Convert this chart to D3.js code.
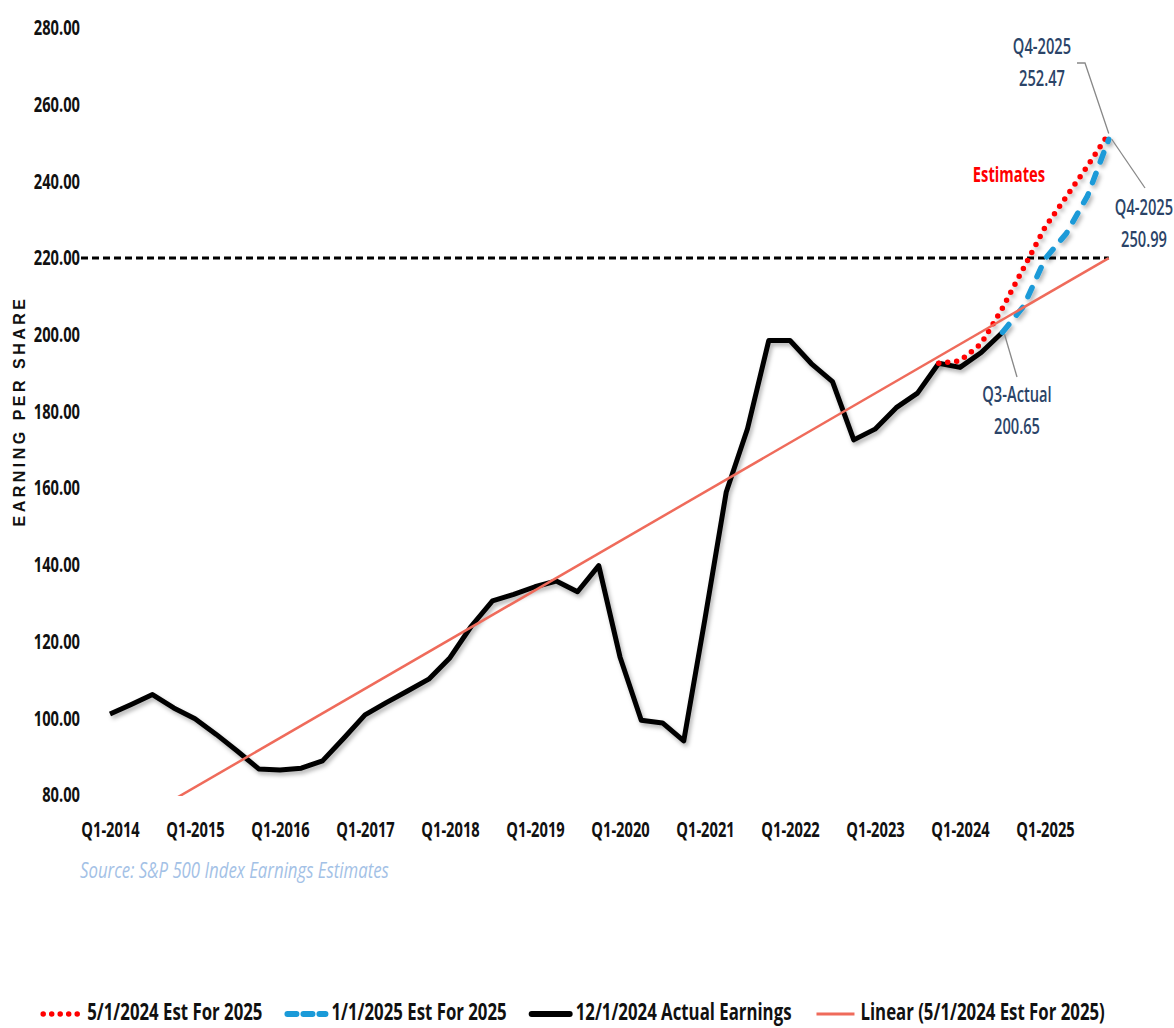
<!DOCTYPE html>
<html>
<head>
<meta charset="utf-8">
<script src="https://cdn.jsdelivr.net/npm/d3@7"></script>
<style>
  body { margin: 0; background: #fff; }
  svg text { font-family: "Open Sans", "Noto Sans", sans-serif; }
</style>
</head>
<body>
<div id="chart"></div>
<script>
// --------------------------------------
//  Data
// --------------------------------------

const quarters = [
  "Q1-2014","Q2-2014","Q3-2014","Q4-2014","Q1-2015","Q2-2015","Q3-2015","Q4-2015",
  "Q1-2016","Q2-2016","Q3-2016","Q4-2016","Q1-2017","Q2-2017","Q3-2017","Q4-2017",
  "Q1-2018","Q2-2018","Q3-2018","Q4-2018","Q1-2019","Q2-2019","Q3-2019","Q4-2019",
  "Q1-2020","Q2-2020","Q3-2020","Q4-2020","Q1-2021","Q2-2021","Q3-2021","Q4-2021",
  "Q1-2022","Q2-2022","Q3-2022","Q4-2022","Q1-2023","Q2-2023","Q3-2023","Q4-2023",
  "Q1-2024","Q2-2024","Q3-2024","Q4-2024","Q1-2025","Q2-2025","Q3-2025","Q4-2025"
];

const xTickLabels = ["Q1-2014","Q1-2015","Q1-2016","Q1-2017","Q1-2018","Q1-2019",
  "Q1-2020","Q1-2021","Q1-2022","Q1-2023","Q1-2024","Q1-2025"];

const yTicks = [80, 100, 120, 140, 160, 180, 200, 220, 240, 260, 280];

// 12/1/2024 Actual Earnings, Q1-2014 .. Q3-2024
const actualEarnings = [
  101.1, 103.6, 106.2, 102.7, 99.9, 95.8, 91.4, 86.8,
  86.5, 87.0, 88.9, 94.8, 100.9, 104.1, 107.1, 110.2,
  115.8, 124.0, 130.6, 132.3, 134.3, 135.8, 133.0, 139.8,
  116.0, 99.5, 98.8, 94.1, 126.0, 159.0, 175.5, 198.5,
  198.5, 192.5, 187.8, 172.6, 175.4, 181.0, 184.8, 192.6,
  191.5, 195.4, 200.65
];

// 5/1/2024 Est For 2025, Q4-2023 .. Q4-2025
const estMay2024Start = "Q4-2023";
const estMay2024 = [192.6, 193.2, 197.7, 207.0, 217.5, 228.0, 236.0, 244.0, 252.47];

// 1/1/2025 Est For 2025, Q3-2024 .. Q4-2025
const estJan2025Start = "Q3-2024";
const estJan2025 = [200.65, 207.5, 219.8, 226.4, 236.2, 250.99];

// Linear (5/1/2024 Est For 2025) trend, value at first and last quarter
const trendQuarters = ["Q1-2014", "Q4-2025"];
const trendValues = [69.2, 220.0];

const refLevel = 220;

const legendLabels = [
  "5/1/2024 Est For 2025",
  "1/1/2025 Est For 2025",
  "12/1/2024 Actual Earnings",
  "Linear (5/1/2024 Est For 2025)"
];

// --------------------------------------
//  Canvas
// --------------------------------------

const width = 1174;
const height = 1028;
const sx = 0.70;   // narrow the text, the source font is condensed

const svg = d3.select("#chart")
  .append("svg")
    .attr("width", width)
    .attr("height", height);

const defs = svg.append("defs");

defs.append("filter")
    .attr("id", "shadow")
    .attr("x", "-10%").attr("y", "-10%")
    .attr("width", "120%").attr("height", "120%")
  .append("feDropShadow")
    .attr("dx", 2).attr("dy", 3)
    .attr("stdDeviation", 2)
    .attr("flood-color", "#000")
    .attr("flood-opacity", 0.3);

defs.append("clipPath")
    .attr("id", "plot-clip")
  .append("rect")
    .attr("x", 80).attr("y", 20)
    .attr("width", 1060).attr("height", 776);

function label(parent, tx, ty, str, opts) {
  return parent.append("text")
    .attr("transform", `translate(${tx},${ty}) scale(${opts.sx || sx},1)`)
    .attr("text-anchor", opts.anchor || "middle")
    .attr("dominant-baseline", "middle")
    .attr("font-size", opts.size || 21)
    .attr("font-weight", opts.weight || "normal")
    .attr("font-style", opts.style || "normal")
    .attr("fill", opts.fill || "#111")
    .text(str);
}

// --------------------------------------
//  Scales
// --------------------------------------

const x = d3.scalePoint()
    .domain(quarters)
    .range([110, 1108.75]);

const y = d3.scaleLinear()
    .domain([80, 280])
    .range([795, 28]);

// --------------------------------------
//  Axes
// --------------------------------------

const yAxis = svg.append("g")
    .attr("transform", "translate(80,0)")
    .call(d3.axisLeft(y)
      .tickValues(yTicks)
      .tickFormat(d3.format(".2f"))
      .tickSize(0)
      .tickPadding(0));
yAxis.select(".domain").remove();
yAxis.selectAll("text")
    .attr("font-size", 21)
    .attr("font-weight", "bold")
    .attr("fill", "#111")
    .attr("transform", `scale(${sx},1)`);

const xAxis = svg.append("g")
    .attr("transform", "translate(0,819)")
    .call(d3.axisBottom(x)
      .tickValues(xTickLabels)
      .tickSize(0)
      .tickPadding(3));
xAxis.select(".domain").remove();
xAxis.selectAll("text")
    .attr("font-size", 21)
    .attr("font-weight", "bold")
    .attr("fill", "#111")
    .attr("transform", `scale(${sx},1)`);

svg.append("text")
    .attr("transform", "translate(25,411) rotate(-90)")
    .attr("text-anchor", "middle")
    .style("font-family", "'Liberation Sans', Arial, sans-serif")
    .attr("font-size", 16)
    .attr("font-weight", "bold")
    .attr("letter-spacing", 3.5)
    .attr("fill", "#111")
    .text("EARNING PER SHARE");

// --------------------------------------
//  Lines
// --------------------------------------

const line = d3.line()
    .x(d => x(d.q))
    .y(d => y(d.v));

const seriesFrom = (start, values) => {
  const i0 = quarters.indexOf(start);
  return values.map((v, i) => ({ q: quarters[i0 + i], v: v }));
};

const actualData = actualEarnings.map((v, i) => ({ q: quarters[i], v: v }));
const mayData = seriesFrom(estMay2024Start, estMay2024);
const janData = seriesFrom(estJan2025Start, estJan2025);
const trendData = trendQuarters.map((q, i) => ({ q: q, v: trendValues[i] }));

const plot = svg.append("g").attr("clip-path", "url(#plot-clip)");

// reference level
plot.append("line")
    .attr("x1", 81)
    .attr("x2", x("Q4-2025"))
    .attr("y1", y(refLevel))
    .attr("y2", y(refLevel))
    .attr("stroke", "#000")
    .attr("stroke-width", 3)
    .attr("stroke-dasharray", "7 4");

// actual earnings
plot.append("path")
    .datum(actualData)
    .attr("d", line)
    .attr("fill", "none")
    .attr("stroke", "#000")
    .attr("stroke-width", 5)
    .attr("stroke-linejoin", "round")
    .attr("filter", "url(#shadow)");

// 5/1/2024 estimate
plot.append("path")
    .datum(mayData)
    .attr("d", line)
    .attr("fill", "none")
    .attr("stroke", "#ff0000")
    .attr("stroke-width", 5.5)
    .attr("stroke-linecap", "round")
    .attr("stroke-dasharray", "0 9")
    .attr("filter", "url(#shadow)");

// 1/1/2025 estimate
plot.append("path")
    .datum(janData)
    .attr("d", line)
    .attr("fill", "none")
    .attr("stroke", "#1a9ad8")
    .attr("stroke-width", 5.5)
    .attr("stroke-linecap", "round")
    .attr("stroke-dasharray", "10 12")
    .attr("filter", "url(#shadow)");

// linear trend
plot.append("path")
    .datum(trendData)
    .attr("d", line)
    .attr("fill", "none")
    .attr("stroke", "#ef6b5b")
    .attr("stroke-width", 2.5);

// --------------------------------------
//  Annotations
// --------------------------------------

const navy = "#2b4468";

function callout(px, py, path, tx, ty, lines) {
  svg.append("path")
    .attr("d", d3.line()([[px, py]].concat(path)))
    .attr("fill", "none")
    .attr("stroke", "#888")
    .attr("stroke-width", 1.3);
  lines.forEach((str, i) => {
    label(svg, tx, ty + i * 32, str, { size: 21, weight: 600, fill: navy });
  });
}

const endX = x("Q4-2025");
callout(endX, y(estMay2024[estMay2024.length - 1]),
  [[1085, 63], [1077, 63]], 1042, 48,
  ["Q4-2025", d3.format(".2f")(estMay2024[estMay2024.length - 1])]);

callout(endX + 3, y(estJan2025[estJan2025.length - 1]),
  [[1145, 188]], 1144, 209,
  ["Q4-2025", d3.format(".2f")(estJan2025[estJan2025.length - 1])]);

callout(x("Q3-2024") + 2, y(actualEarnings[actualEarnings.length - 1]) + 2,
  [[1017, 377]], 1017, 396,
  ["Q3-Actual", d3.format(".2f")(actualEarnings[actualEarnings.length - 1])]);

label(svg, 1009, 176, "Estimates", { size: 22, weight: "bold", fill: "#ff0000", sx: 0.67 });

label(svg, 80, 872, "Source: S&P 500 Index Earnings Estimates",
  { size: 21, style: "italic", fill: "#a3c1e6", anchor: "start", sx: 0.8 });

// --------------------------------------
//  Legend
// --------------------------------------

const legendStyles = [
  { stroke: "#ff0000", width: 5.5, dash: "0 8.5", cap: "round" },
  { stroke: "#1a9ad8", width: 6, dash: "9 7", cap: "round" },
  { stroke: "#000", width: 6, dash: null, cap: "round" },
  { stroke: "#ef6b5b", width: 3, dash: null, cap: "butt" }
];

const legend = svg.append("g");
let lx = 0;
legendLabels.forEach((str, i) => {
  const st = legendStyles[i];
  legend.append("line")
    .attr("x1", lx + 3).attr("x2", lx + 41)
    .attr("y1", 0).attr("y2", 0)
    .attr("stroke", st.stroke)
    .attr("stroke-width", st.width)
    .attr("stroke-linecap", st.cap)
    .attr("stroke-dasharray", st.dash);
  const t = label(legend, lx + 47, 0, str, { size: 24, weight: "bold", anchor: "start" });
  lx += 47 + t.node().getComputedTextLength() * sx + 22;
});
lx -= 22;
legend.attr("transform", `translate(${(30 + 1115 - lx) / 2},1014)`);
</script>
</body>
</html>
